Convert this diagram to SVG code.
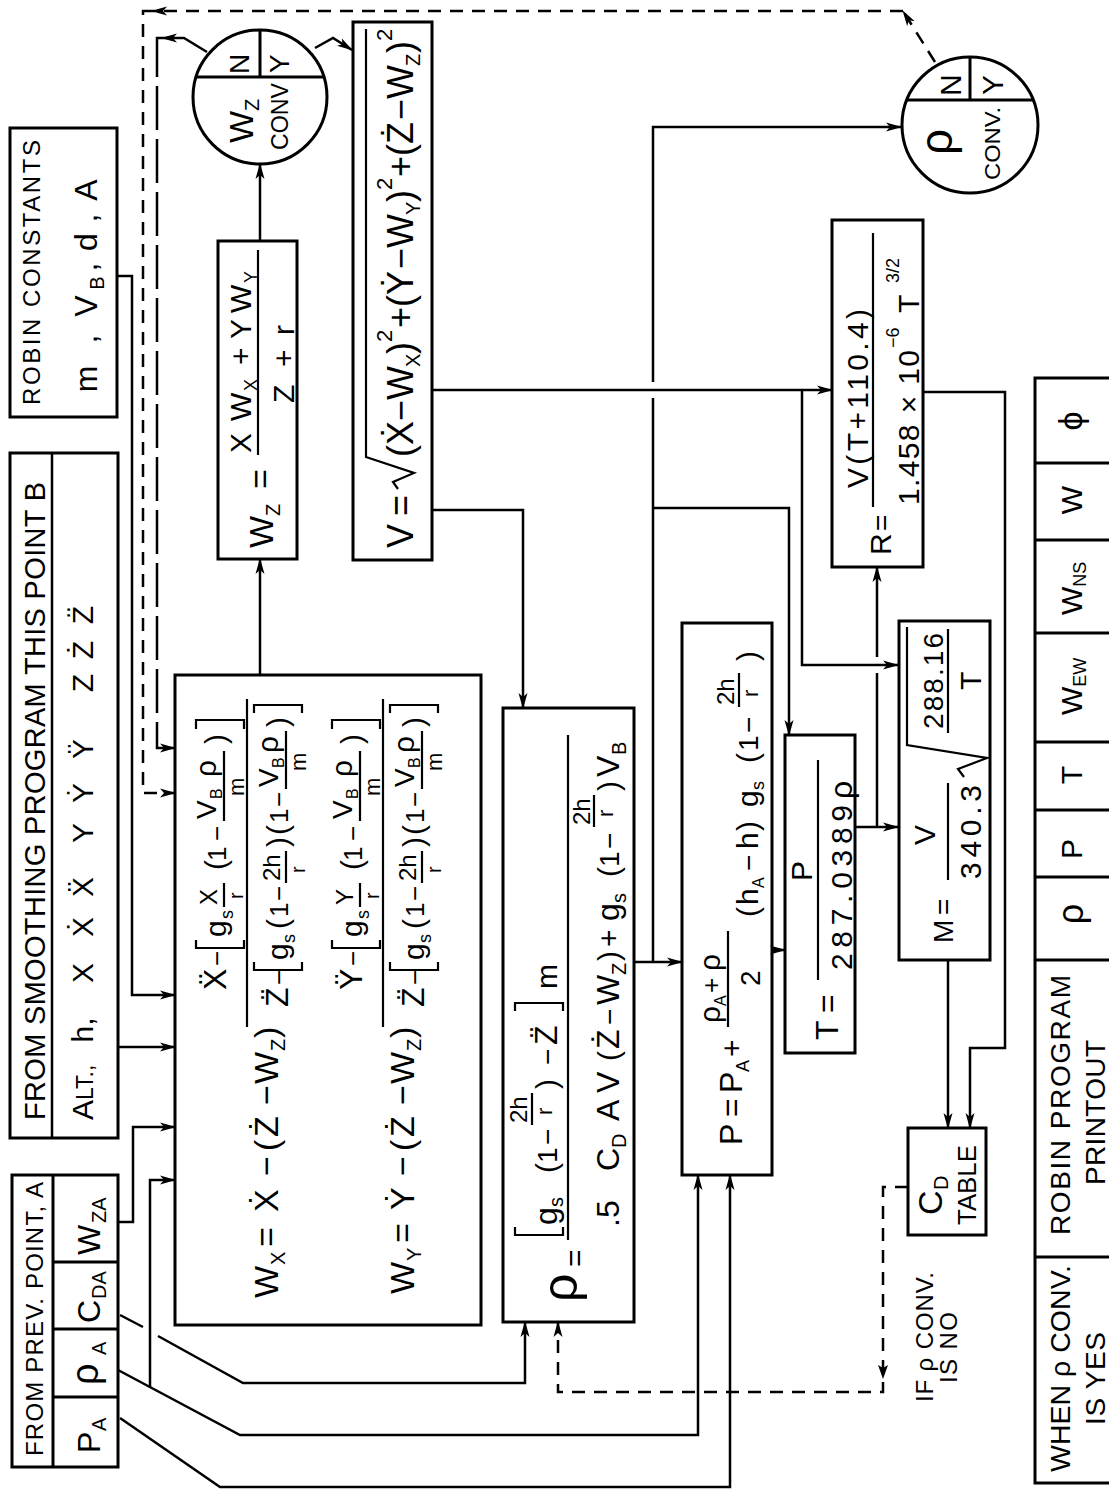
<svg xmlns="http://www.w3.org/2000/svg" width="1109" height="1489" viewBox="0 0 1109 1489">
<style>
text{font-family:"Liberation Sans","DejaVu Sans",Arial,sans-serif;fill:#000}
.bx{fill:none;stroke:#000;stroke-width:3}
.ln{fill:none;stroke:#000;stroke-width:2.5}
.fb{fill:none;stroke:#000;stroke-width:2.2}
.ds{fill:none;stroke:#000;stroke-width:2.5;stroke-dasharray:13 9}
.dl{fill:none;stroke:#000;stroke-width:2.5;stroke-dasharray:44 9}
.ar{marker-end:url(#ah)}
</style>
<defs>
<marker id="ah" viewBox="0 0 16 10" refX="15" refY="5" markerWidth="16" markerHeight="10" markerUnits="userSpaceOnUse" orient="auto"><path d="M0,0.5 L16,5 L0,9.5 L4,5 Z" fill="#000"/></marker>
</defs>
<rect width="1109" height="1489" fill="#fff"/>
<g transform="translate(0,1489) rotate(-90)">

<g id="from-smoothing">
<rect class="bx" x="351" y="10" width="685" height="108"/>
<line class="ln" x1="351" y1="52" x2="1036" y2="52"/>
<text x="369" y="45" font-size="29" textLength="638" lengthAdjust="spacing">FROM SMOOTHING PROGRAM THIS POINT B</text>
<text x="369" y="93" font-size="30">A<tspan font-size="23">LT.,</tspan></text>
<text y="93" font-size="30" text-anchor="middle"><tspan x="459">h,</tspan><tspan x="516">X</tspan><tspan x="562">Ẋ</tspan><tspan x="602">Ẍ</tspan><tspan x="656">Y</tspan><tspan x="696">Ẏ</tspan><tspan x="740">Ÿ</tspan><tspan x="806">Z</tspan><tspan x="839">Ż</tspan><tspan x="874">Z̈</tspan></text>
</g>

<g id="robin-constants">
<rect class="bx" x="1072" y="10" width="289" height="107"/>
<text x="1084" y="40" font-size="24" textLength="265" lengthAdjust="spacing">ROBIN CONSTANTS</text>
<text y="97" font-size="32" text-anchor="middle"><tspan x="1110">m</tspan><tspan x="1150">,</tspan><tspan x="1183">V</tspan><tspan x="1206" y="104" font-size="20">B</tspan><tspan x="1222" y="97">,</tspan><tspan x="1247">d</tspan><tspan x="1271">,</tspan><tspan x="1299">A</tspan></text>
</g>

<g id="from-prev-point">
<rect class="bx" x="22" y="12" width="292" height="106"/>
<path class="bx" d="M22,53 H314 M92,53 V118 M160,53 V118 M227,53 V118"/>
<text x="33" y="43" font-size="24" textLength="274" lengthAdjust="spacing">FROM PREV. POINT, A</text>
<text y="100" font-size="32"><tspan x="36">P</tspan><tspan x="58" y="106" font-size="20">A</tspan></text>
<text y="98" font-size="38"><tspan x="104">ρ</tspan><tspan x="134" y="106" font-size="20">A</tspan></text>
<text y="100" font-size="32"><tspan x="166">C</tspan><tspan x="190" y="106" font-size="20">DA</tspan></text>
<text y="100" font-size="32"><tspan x="234">W</tspan><tspan x="266" y="106" font-size="20">ZA</tspan></text>
</g>

<g id="wind-components">
<rect class="bx" x="164" y="175" width="650" height="306"/>
<text y="278" font-size="34"><tspan x="191">W</tspan><tspan x="224" y="285" font-size="20">X</tspan><tspan x="242" y="278">=</tspan><tspan x="277">Ẋ</tspan><tspan x="313">−</tspan><tspan x="338">(</tspan><tspan x="352">Ż</tspan><tspan x="384">−</tspan><tspan x="405">W</tspan><tspan x="438" y="285" font-size="20">Z</tspan><tspan x="451" y="278">)</tspan></text>
<path class="fb" d="M462,247 H790"/>
<text y="226" font-size="30"><tspan x="499" font-size="32">Ẍ</tspan><tspan x="523" font-size="26">−</tspan><tspan x="552">g</tspan><tspan x="570" y="233" font-size="18">s</tspan><tspan x="619" y="226">(</tspan><tspan x="628" font-size="26">1</tspan><tspan x="648" font-size="26">−</tspan><tspan x="745">)</tspan></text>
<text font-size="24"><tspan x="584" y="217">X</tspan><tspan x="590" y="243" font-size="20">r</tspan><tspan x="670" y="216" font-size="28">V</tspan><tspan x="690" y="222" font-size="16">B</tspan><tspan x="712" y="216" font-size="30">ρ</tspan><tspan x="693" y="244" font-size="22">m</tspan></text>
<path class="fb" d="M582,224 H606 M668,224 H738 M549,196 H541 V244 H549 M760,196 H769 V244 H760"/>
<text y="288" font-size="30"><tspan x="482" font-size="32">Z̈</tspan><tspan x="504" font-size="26">−</tspan><tspan x="529">g</tspan><tspan x="546" y="295" font-size="18">s</tspan><tspan x="560" y="288">(</tspan><tspan x="572" font-size="26">1</tspan><tspan x="588" font-size="26">−</tspan><tspan x="642">)</tspan><tspan x="654">(</tspan><tspan x="666" font-size="26">1</tspan><tspan x="682" font-size="26">−</tspan><tspan x="762">)</tspan></text>
<text font-size="24"><tspan x="608" y="280">2h</tspan><tspan x="616" y="305" font-size="20">r</tspan><tspan x="702" y="278" font-size="28">V</tspan><tspan x="721" y="284" font-size="16">B</tspan><tspan x="736" y="278" font-size="30">ρ</tspan><tspan x="718" y="306" font-size="22">m</tspan></text>
<path class="fb" d="M606,286 H638 M700,286 H758 M527,254 H519 V302 H527 M776,254 H784 V302 H776"/>
<text y="414" font-size="34"><tspan x="195">W</tspan><tspan x="228" y="421" font-size="20">Y</tspan><tspan x="246" y="414">=</tspan><tspan x="279">Ẏ</tspan><tspan x="313">−</tspan><tspan x="338">(</tspan><tspan x="352">Ż</tspan><tspan x="384">−</tspan><tspan x="405">W</tspan><tspan x="438" y="421" font-size="20">Z</tspan><tspan x="451" y="414">)</tspan></text>
<path class="fb" d="M462,383 H790"/>
<text y="362" font-size="30"><tspan x="499" font-size="32">Ÿ</tspan><tspan x="523" font-size="26">−</tspan><tspan x="552">g</tspan><tspan x="570" y="369" font-size="18">s</tspan><tspan x="619" y="362">(</tspan><tspan x="628" font-size="26">1</tspan><tspan x="648" font-size="26">−</tspan><tspan x="745">)</tspan></text>
<text font-size="24"><tspan x="584" y="353">Y</tspan><tspan x="590" y="379" font-size="20">r</tspan><tspan x="670" y="352" font-size="28">V</tspan><tspan x="690" y="358" font-size="16">B</tspan><tspan x="712" y="352" font-size="30">ρ</tspan><tspan x="693" y="380" font-size="22">m</tspan></text>
<path class="fb" d="M582,360 H606 M668,360 H738 M549,332 H541 V380 H549 M760,332 H769 V380 H760"/>
<text y="424" font-size="30"><tspan x="482" font-size="32">Z̈</tspan><tspan x="504" font-size="26">−</tspan><tspan x="529">g</tspan><tspan x="546" y="431" font-size="18">s</tspan><tspan x="560" y="424">(</tspan><tspan x="572" font-size="26">1</tspan><tspan x="588" font-size="26">−</tspan><tspan x="642">)</tspan><tspan x="654">(</tspan><tspan x="666" font-size="26">1</tspan><tspan x="682" font-size="26">−</tspan><tspan x="762">)</tspan></text>
<text font-size="24"><tspan x="608" y="416">2h</tspan><tspan x="616" y="441" font-size="20">r</tspan><tspan x="702" y="414" font-size="28">V</tspan><tspan x="721" y="420" font-size="16">B</tspan><tspan x="736" y="414" font-size="30">ρ</tspan><tspan x="718" y="442" font-size="22">m</tspan></text>
<path class="fb" d="M606,422 H638 M700,422 H758 M527,390 H519 V438 H527 M776,390 H784 V438 H776"/>
</g>

<g id="wz-eq">
<rect class="bx" x="930" y="218" width="318" height="79"/>
<text y="273" font-size="34"><tspan x="941">W</tspan><tspan x="973" y="280" font-size="20">Z</tspan><tspan x="1000" y="272">=</tspan></text>
<path class="fb" d="M1034,258 H1239"/>
<text y="251" font-size="30"><tspan x="1036">X</tspan><tspan x="1068">W</tspan><tspan x="1098" y="257" font-size="18">X</tspan><tspan x="1124" y="251">+</tspan><tspan x="1150">Y</tspan><tspan x="1176">W</tspan><tspan x="1206" y="257" font-size="18">Y</tspan></text>
<text y="294" font-size="30"><tspan x="1086">Z</tspan><tspan x="1122">+</tspan><tspan x="1154">r</tspan></text>
</g>

<g id="v-eq">
<rect class="bx" x="929" y="353" width="538" height="79"/>
<path class="fb" d="M1000,398 L1007,393 L1016,414 L1032,366 H1460"/>
<text y="413" font-size="36"><tspan x="941">V</tspan><tspan x="973">=</tspan><tspan x="1032">(</tspan><tspan x="1044">Ẋ</tspan><tspan x="1068">−</tspan><tspan x="1089">W</tspan><tspan x="1122" y="420" font-size="20">X</tspan><tspan x="1135" y="413">)</tspan><tspan x="1147" y="392" font-size="22">2</tspan><tspan x="1161" y="413">+</tspan><tspan x="1182">(</tspan><tspan x="1194">Ẏ</tspan><tspan x="1220">−</tspan><tspan x="1241">W</tspan><tspan x="1274" y="420" font-size="20">Y</tspan><tspan x="1287" y="413">)</tspan><tspan x="1299" y="392" font-size="22">2</tspan><tspan x="1312" y="413">+</tspan><tspan x="1333">(</tspan><tspan x="1345">Ż</tspan><tspan x="1369">−</tspan><tspan x="1390">W</tspan><tspan x="1423" y="420" font-size="20">Z</tspan><tspan x="1436" y="413">)</tspan><tspan x="1448" y="392" font-size="22">2</tspan></text>
</g>

<g id="wz-conv">
<circle class="bx" cx="1392" cy="260" r="67"/>
<path class="bx" d="M1412,196 V324 M1412,260 H1459"/>
<text y="253" font-size="34"><tspan x="1346">W</tspan><tspan x="1378" y="259" font-size="20">Z</tspan></text>
<text x="1339" y="288" font-size="24" textLength="67" lengthAdjust="spacingAndGlyphs">CONV</text>
<text x="1415" y="249" font-size="28">N</text>
<text x="1416" y="289" font-size="28">Y</text>
</g>

<g id="rho-eq">
<rect class="bx" x="167" y="503" width="614" height="131"/>
<text x="187" y="577" font-size="50">ρ</text>
<text x="222" y="585" font-size="30">=</text>
<path class="fb" d="M249,568 H754"/>
<text y="557" font-size="30"><tspan x="264" font-size="32">g</tspan><tspan x="282" y="563" font-size="20">s</tspan><tspan x="316" y="557">(</tspan><tspan x="326" font-size="28">1</tspan><tspan x="344" font-size="28">−</tspan><tspan x="400">)</tspan><tspan x="424" font-size="28">−</tspan><tspan x="444" font-size="32">Z̈</tspan><tspan x="500">m</tspan></text>
<text font-size="24"><tspan x="366" y="527">2h</tspan><tspan x="374" y="552" font-size="22">r</tspan></text>
<path class="fb" d="M364,532 H396 M262,515 H254 V563 H262 M478,515 H486 V563 H478"/>
<text y="619" font-size="32"><tspan x="262">.5</tspan><tspan x="318">C</tspan><tspan x="341" y="626" font-size="20">D</tspan><tspan x="368" y="619">A</tspan><tspan x="396">V</tspan><tspan x="428" font-size="30">(</tspan><tspan x="440">Ż</tspan><tspan x="464" font-size="28">−</tspan><tspan x="484">W</tspan><tspan x="514" y="626" font-size="20">Z</tspan><tspan x="528" y="619" font-size="30">)</tspan><tspan x="542" font-size="30">+</tspan><tspan x="568">g</tspan><tspan x="586" y="626" font-size="20">s</tspan><tspan x="612" y="619" font-size="30">(</tspan><tspan x="622" font-size="28">1</tspan><tspan x="640" font-size="28">−</tspan><tspan x="698" font-size="30">)</tspan><tspan x="712">V</tspan><tspan x="734" y="626" font-size="20">B</tspan></text>
<text font-size="24"><tspan x="664" y="590">2h</tspan><tspan x="672" y="613" font-size="22">r</tspan></text>
<path class="fb" d="M662,594 H694"/>
</g>

<g id="p-eq">
<rect class="bx" x="314" y="682" width="552" height="90"/>
<text y="742" font-size="32"><tspan x="344">P</tspan><tspan x="372">=</tspan><tspan x="396">P</tspan><tspan x="417" y="749" font-size="18">A</tspan><tspan x="432" y="742" font-size="30">+</tspan></text>
<text y="720" font-size="30"><tspan x="466">ρ</tspan><tspan x="483" y="726" font-size="16">A</tspan><tspan x="496" y="720" font-size="26">+</tspan><tspan x="518">ρ</tspan></text>
<path class="fb" d="M462,728 H558"/>
<text x="503" y="760" font-size="28">2</text>
<text y="758" font-size="30"><tspan x="572">(</tspan><tspan x="584">h</tspan><tspan x="601" y="764" font-size="16">A</tspan><tspan x="618" y="758" font-size="28">−</tspan><tspan x="640">h</tspan><tspan x="658">)</tspan><tspan x="682">g</tspan><tspan x="699" y="764" font-size="18">s</tspan><tspan x="726" y="758">(</tspan><tspan x="738" font-size="28">1</tspan><tspan x="756" font-size="28">−</tspan><tspan x="828">)</tspan></text>
<text font-size="24"><tspan x="784" y="734">2h</tspan><tspan x="792" y="758" font-size="22">r</tspan></text>
<path class="fb" d="M782,739 H816"/>
</g>

<g id="t-eq">
<rect class="bx" x="436" y="785" width="318" height="70"/>
<text y="838" font-size="32"><tspan x="449">T</tspan><tspan x="476">=</tspan></text>
<path class="fb" d="M509,818 H729"/>
<text x="608" y="812" font-size="30">P</text>
<text y="852" font-size="30"><tspan x="519" textLength="165" lengthAdjust="spacing">287.0389</tspan><tspan x="690" font-size="32">ρ</tspan></text>
</g>

<g id="m-eq">
<rect class="bx" x="529" y="899" width="339" height="91"/>
<text y="953" font-size="28"><tspan x="546">M</tspan><tspan x="574">=</tspan></text>
<text x="644" y="935" font-size="30">V</text>
<path class="fb" d="M609,948 H706 M756,948 H860 M712,964 L720,958 L731,987 L744,907 H862"/>
<text x="610" y="981" font-size="30" textLength="94" lengthAdjust="spacing">340.3</text>
<text x="760" y="943" font-size="28" textLength="96" lengthAdjust="spacing">288.16</text>
<text x="799" y="981" font-size="30">T</text>
</g>

<g id="r-eq">
<rect class="bx" x="922" y="832" width="347" height="91"/>
<text y="891" font-size="30"><tspan x="934">R</tspan><tspan x="958" font-size="28">=</tspan></text>
<path class="fb" d="M982,873 H1256"/>
<text x="1001" y="868" font-size="30" textLength="179" lengthAdjust="spacing">V(T+110.4)</text>
<text x="984" y="919" font-size="30" textLength="155" lengthAdjust="spacing">1.458 × 10</text>
<text x="1141" y="899" font-size="18">−6</text>
<text x="1176" y="919" font-size="30">T</text>
<text x="1206" y="899" font-size="18">3/2</text>
</g>

<g id="rho-conv">
<circle class="bx" cx="1364" cy="970" r="68"/>
<path class="bx" d="M1389,907 V1033 M1389,970 H1432"/>
<text x="1334" y="952" font-size="46">ρ</text>
<text x="1309" y="1000" font-size="22" textLength="73" lengthAdjust="spacingAndGlyphs">CONV.</text>
<text x="1393" y="961" font-size="30">N</text>
<text x="1394" y="1003" font-size="30">Y</text>
</g>

<g id="cd-table">
<rect class="bx" x="254" y="908" width="107" height="78"/>
<text x="274" y="942" font-size="34">C</text>
<text x="299" y="948" font-size="20">D</text>
<text x="264" y="976" font-size="26" textLength="80" lengthAdjust="spacingAndGlyphs">TABLE</text>
</g>

<g id="if-rho-note">
<text x="87" y="933" font-size="24" textLength="130" lengthAdjust="spacing">IF ρ CONV.</text>
<text x="106" y="957" font-size="24" textLength="71" lengthAdjust="spacing">IS NO</text>
</g>

<g id="printout-table">
<path class="bx" d="M6,1115 V1035 H1111 V1115 M232,1035 V1115 M529,1035 V1115 M612,1035 V1115 M679,1035 V1115 M747,1035 V1115 M856,1035 V1115 M949,1035 V1115 M1026,1035 V1115"/>
<text x="17" y="1070" font-size="28" textLength="207" lengthAdjust="spacingAndGlyphs">WHEN ρ CONV.</text>
<text x="64" y="1105" font-size="28" textLength="93" lengthAdjust="spacing">IS YES</text>
<text x="254" y="1070" font-size="28" textLength="260" lengthAdjust="spacing">ROBIN PROGRAM</text>
<text x="304" y="1105" font-size="28" textLength="145" lengthAdjust="spacing">PRINTOUT</text>
<text x="575" y="1083" font-size="36" text-anchor="middle">ρ</text>
<text x="640" y="1082" font-size="30" text-anchor="middle">P</text>
<text x="714" y="1082" font-size="30" text-anchor="middle">T</text>
<text x="774" y="1082" font-size="30">W<tspan font-size="18" y="1086">EW</tspan></text>
<text x="874" y="1082" font-size="30">W<tspan font-size="18" y="1086">NS</tspan></text>
<text x="989" y="1082" font-size="30" text-anchor="middle">W</text>
<text x="1068" y="1082" font-size="34" text-anchor="middle">ϕ</text>
</g>

<g id="connectors">
<path class="ln ar" d="M1213,117 V132 H494 V175"/>
<path class="ln ar" d="M442,118 V175"/>
<path class="ln ar" d="M267,118 V133 H362 V175"/>
<path class="ln ar" d="M101,150 H309 V175"/>
<path class="ln ar" d="M119,118 L54,240 V698 H314"/>
<path class="ln" d="M174,120 L162,143"/>
<path class="ln ar" d="M153,158 L106,243 V525 H167"/>
<path class="ln ar" d="M71,120 L2,220 V730 H314"/>
<path class="ds ar" d="M302,908 V883 H97 V558 H167"/>
<path d="M110,883 L124,878 L121,883 L124,888 Z"/>
<path class="ln ar" d="M979,432 V523 H781"/>
<path class="ln ar" d="M1099,432 V832"/>
<path class="ln ar" d="M1099,802 H824 V898"/>
<path class="ln ar" d="M527,634 V682"/>
<path class="ln" d="M527,653 H1091"/>
<path class="ln ar" d="M1107,653 H1362 V901"/>
<path class="ln ar" d="M981,653 V789 H754"/>
<path class="ln ar" d="M539,772 V785"/>
<path class="ln ar" d="M662,855 V898"/>
<path class="ln" d="M662,877 H816"/>
<path class="ln ar" d="M832,877 H922"/>
<path class="ln ar" d="M529,948 H361"/>
<path class="ln ar" d="M1097,923 V1005 H441 V970 H361"/>
<path class="ln ar" d="M1248,260 H1325"/>
<path class="ln ar" d="M814,260 H930"/>
<path class="ln ar" d="M1441,315 L1451,333 L1439,352"/>
<path class="ln ar" d="M1437,207 L1451,184 V162"/>
<path class="dl ar" d="M1451,162 V157 H741 V175"/>
<path class="ds ar" d="M1427,935 L1478,903"/>
<path class="ds ar" d="M1478,903 V152"/>
<path class="ds ar" d="M1478,152 V143 H696 V175"/>
</g>

</g>
</svg>
